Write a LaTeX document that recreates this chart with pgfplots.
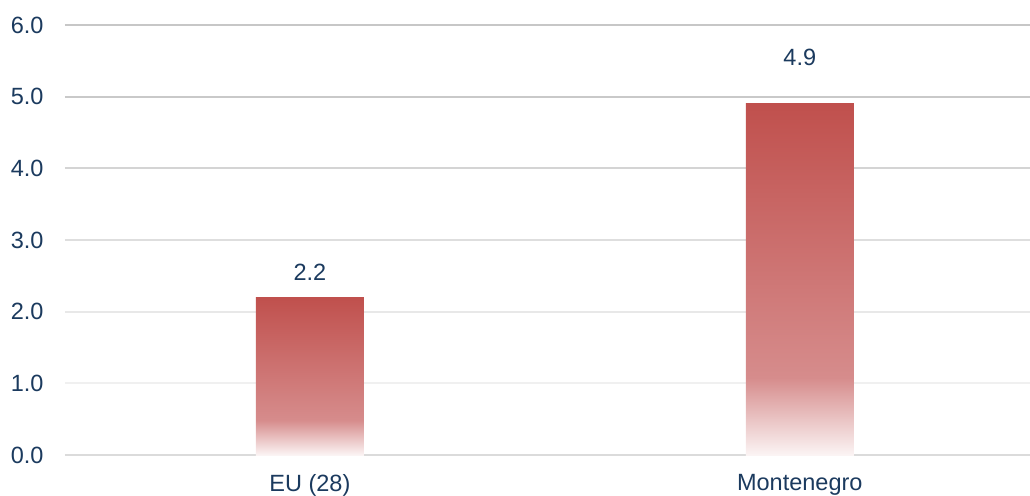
\documentclass[border=0pt]{standalone}
\usepackage{pgfplots}
\pgfplotsset{compat=1.18}
\usepackage{fontspec}
\setmainfont{Liberation Sans}
\definecolor{txt}{HTML}{1B3A5E}
\definecolor{bartop}{RGB}{192,80,77}
\definecolor{barmid}{RGB}{214,140,140}
\definecolor{barbot}{RGB}{251,244,244}
\pgfdeclareverticalshading{barshade}{100bp}{color(0bp)=(barbot); color(25bp)=(barbot); color(36bp)=(barmid); color(75bp)=(bartop); color(100bp)=(bartop)}
\begin{document}
\begin{tikzpicture}
\begin{axis}[
  scale only axis,
  width=965pt, height=430pt,
  xmin=-0.5, xmax=1.47,
  ymin=0, ymax=6,
  axis line style={draw=none},
  tick style={draw=none},
  xtick={0,1},
  xticklabels={EU (28),Montenegro},
  ytick={0,1,...,6},
  yticklabel style={/pgf/number format/fixed, /pgf/number format/fixed zerofill, /pgf/number format/precision=1, xshift=-18pt},
  /pgf/number format/assume math mode=true,
  ticklabel style={font=\fontsize{23.5}{27}\selectfont, text=txt},
  xticklabel style={yshift=-16pt},
  clip=false,
]
\draw[line width=1.7pt, color=black!22] (axis cs:-0.5,6) -- (axis cs:1.47,6);
\draw[line width=1.7pt, color=black!21] (axis cs:-0.5,5) -- (axis cs:1.47,5);
\draw[line width=1.7pt, color=black!17] (axis cs:-0.5,4) -- (axis cs:1.47,4);
\draw[line width=1.7pt, color=black!13] (axis cs:-0.5,3) -- (axis cs:1.47,3);
\draw[line width=1.7pt, color=black!9] (axis cs:-0.5,2) -- (axis cs:1.47,2);
\draw[line width=1.7pt, color=black!6] (axis cs:-0.5,1) -- (axis cs:1.47,1);
\draw[line width=1.7pt, color=black!14] (axis cs:-0.5,0) -- (axis cs:1.47,0);
\addplot[ybar, bar width=108pt, bar shift=0pt, draw=none, shading=barshade] coordinates {(0,2.2)};
\addplot[ybar, bar width=108pt, bar shift=0pt, draw=none, shading=barshade] coordinates {(1,4.9)};
\addplot[draw=none, mark=none, nodes near coords, point meta=explicit symbolic,
  nodes near coords style={anchor=center, font=\fontsize{23.5}{27}\selectfont, text=txt}]
  coordinates {(0,2.55)[2.2] (1,5.55)[4.9]};
\end{axis}
\pgfresetboundingbox
\path[use as bounding box] (-65pt,-40pt) rectangle (965pt,455pt);
\end{tikzpicture}
\end{document}
